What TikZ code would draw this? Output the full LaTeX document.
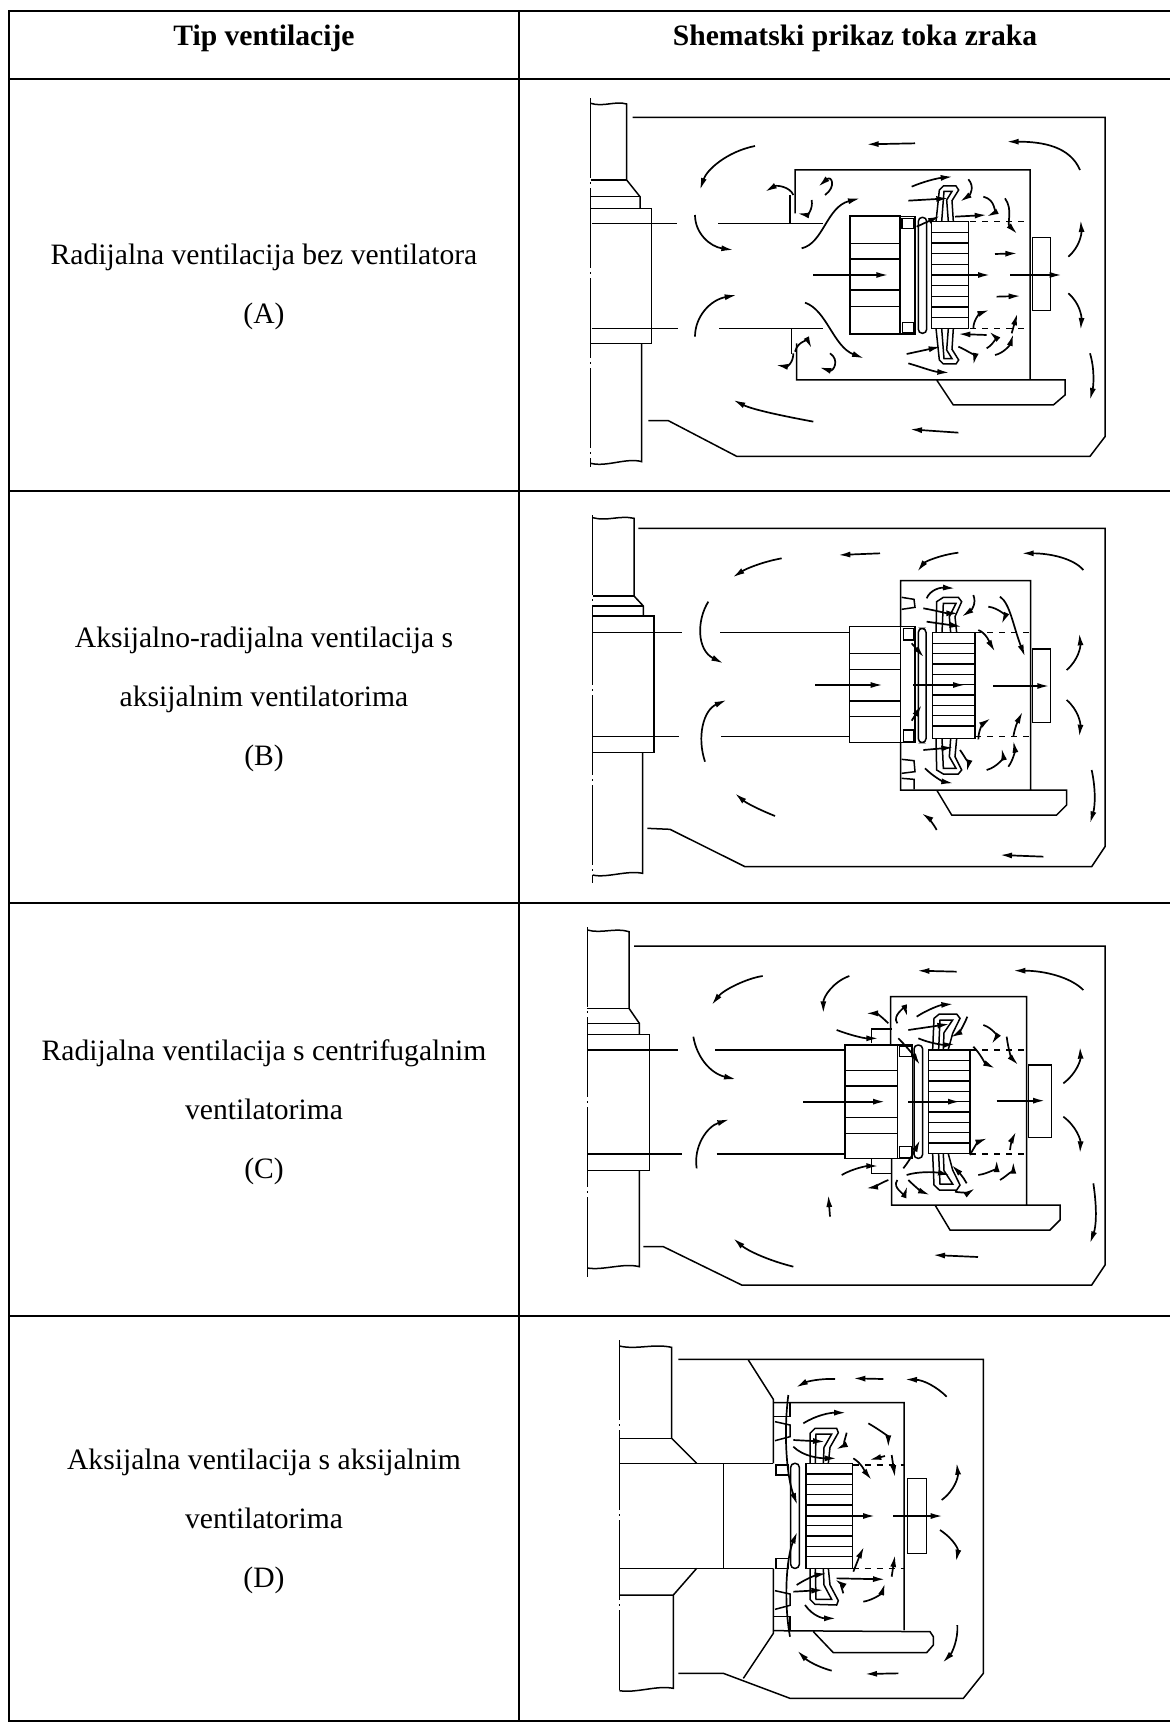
\documentclass[tikz,border=0pt]{standalone}
\usepackage{fontspec}
\setmainfont{Liberation Serif}
\usetikzlibrary{arrows.meta}

\begin{document}
\begin{tikzpicture}[x=0.5pt,y=-0.5pt,
  rule/.style={line width=0.85pt},
  hd/.style={anchor=base,font=\fontsize{14.8}{18}\selectfont\bfseries},
  txt/.style={anchor=base,font=\fontsize{14.8}{18}\selectfont},
  part/.style={line width=0.75pt},
  centreline/.style={line width=0.75pt,dash pattern=on 40pt off 2pt on 1pt off 2pt},
  flow/.style={line width=0.85pt,-{Latex[length=6pt,width=3pt]}}]
\useasboundingbox (0,0) rectangle (1169,1722);
\fill[white] (0,0) rectangle (1169,1722);

% table
\draw[rule] (8.7,11) rectangle (1172,1721);
\draw[rule] (519,11) -- (519,1721);
\foreach \y in {79,491,903,1316} \draw[rule] (8.7,\y) -- (1172,\y);

\node[hd] (head1) at (264,46) {Tip ventilacije};
\node[hd] (head2) at (855,46) {Shematski prikaz toka zraka};

\node[txt] (a1) at (264,265) {Radijalna ventilacija bez ventilatora};
\node[txt] (a2) at (264,324) {(A)};
\node[txt] (b1) at (264,647) {Aksijalno-radijalna ventilacija s};
\node[txt] (b2) at (264,706) {aksijalnim ventilatorima};
\node[txt] (b3) at (264,765) {(B)};
\node[txt] (c1) at (264,1060) {Radijalna ventilacija s centrifugalnim};
\node[txt] (c2) at (264,1119) {ventilatorima};
\node[txt] (c3) at (264,1178) {(C)};
\node[txt] (d1) at (264,1469) {Aksijalna ventilacija s aksijalnim};
\node[txt] (d2) at (264,1528) {ventilatorima};
\node[txt] (d3) at (264,1587) {(D)};

% ---------- A
\begin{scope}[shift={(560,80)},scale=1/3]
  \draw[centreline] (92,55) -- (92,1160);
  \draw[part] (92,70) .. controls (130,82) and (165,62) .. (200,72) -- (200,300) -- (240,350) -- (240,385);
  \draw[part] (92,300) -- (200,300) (92,350) -- (240,350) (92,385) -- (275,385) -- (275,790) -- (92,790);
  \draw[part] (245,790) -- (245,1145) .. controls (200,1132) and (140,1162) .. (92,1150);
  \draw[part] (95,430) -- (350,430) (475,430) -- (790,430) (95,745) -- (355,745) (478,745) -- (790,745);
  \draw[part,dashed] (1230,425) -- (1410,425) (1230,745) -- (1410,745);
  \draw[part] (218,112) -- (1635,112) -- (1635,1070) -- (1590,1129) -- (530,1129) -- (325,1022) -- (265,1022);
  \draw[part] (690,345) -- (690,430) (695,745) -- (695,822);
  \draw[part] (705,400) -- (705,270) -- (1410,270) -- (1410,900) (710,790) -- (710,900) -- (1515,900) -- (1515,945) -- (1480,975) -- (1180,975) -- (1130,900);
  \draw[part] (870,408) rectangle (1020,762);
  \foreach \y in {490,537,630,680} \draw[part] (870,\y) -- (1020,\y);
  \draw[part] (1022,410) rectangle (1065,762) (1026,415) rectangle (1062,445) (1028,728) rectangle (1062,758);
  \draw[part,rounded corners=2pt] (1075,412) rectangle (1100,760);
  \draw[part] (1115,425) rectangle (1225,745);
  \foreach \y in {457,489,...,713} \draw[part] (1115,\y) -- (1225,\y);
  \draw[part] (1128,425) -- (1138,330) -- (1150,318) -- (1188,318) -- (1196,330) -- (1176,362) -- (1180,425) (1165,425) -- (1160,360) -- (1176,334) -- (1152,334) -- (1145,425);
  \draw[part] (1128,745) -- (1138,840) -- (1150,852) -- (1188,852) -- (1196,840) -- (1176,808) -- (1180,745) (1165,745) -- (1160,810) -- (1176,836) -- (1152,836) -- (1145,745);
  \draw[part] (1418,473) rectangle (1472,692);
  % air flow
  \draw[flow] (1065,190) -- (920,193);
  \draw[flow] (1560,270) .. controls (1530,200) and (1450,185) .. (1340,185);
  \draw[flow] (585,198) .. controls (500,215) and (440,270) .. (420,330);
  \draw[flow] (405,405) .. controls (405,460) and (450,500) .. (520,510);
  \draw[flow] (405,770) .. controls (405,710) and (450,660) .. (530,645);
  \draw[flow] (760,1025) .. controls (680,1010) and (580,990) .. (520,960);
  \draw[flow] (1195,1058) -- (1050,1048);
  \draw[flow] (725,505) .. controls (790,490) and (800,380) .. (900,355);
  \draw[flow] (735,668) .. controls (800,690) and (820,800) .. (912,835);
  \draw[flow] (700,345) .. controls (690,320) and (650,315) .. (615,335);
  \draw[flow] (795,345) .. controls (830,320) and (815,285) .. (775,320);
  \draw[flow] (755,360) .. controls (760,390) and (740,405) .. (712,400);
  \draw[flow] (705,815) .. controls (715,780) and (745,785) .. (755,805);
  \draw[flow] (700,820) .. controls (700,850) and (680,860) .. (648,855);
  \draw[flow] (810,820) .. controls (840,840) and (820,875) .. (778,862);
  \draw[flow] (760,585) -- (985,585);
  \draw[flow] (1115,585) -- (1290,585);
  \draw[flow] (1305,522) -- (1372,520);
  \draw[flow] (1310,650) -- (1382,648);
  \draw[flow] (1350,585) -- (1505,585);
  \draw[flow] (1055,320) .. controls (1090,305) and (1130,295) .. (1178,290);
  \draw[flow] (1045,362) -- (1165,355);
  \draw[flow] (1070,440) -- (1140,408);
  \draw[flow] (1225,298) .. controls (1245,320) and (1230,345) .. (1200,365);
  \draw[flow] (1270,350) .. controls (1310,360) and (1300,400) .. (1280,410);
  \draw[flow] (1185,410) -- (1280,405);
  \draw[flow] (1335,355) .. controls (1360,390) and (1340,430) .. (1372,462);
  \draw[flow] (1040,822) -- (1142,800);
  \draw[flow] (1045,850) .. controls (1080,860) and (1120,875) .. (1168,878);
  \draw[flow] (1240,745) .. controls (1240,720) and (1260,700) .. (1288,690);
  \draw[flow] (1280,765) -- (1195,762);
  \draw[flow] (1195,800) .. controls (1220,810) and (1245,830) .. (1240,855);
  \draw[flow] (1280,805) .. controls (1305,790) and (1305,770) .. (1288,755);
  \draw[flow] (1305,825) .. controls (1330,820) and (1350,795) .. (1360,762);
  \draw[flow] (1355,760) -- (1372,700);
  \draw[flow] (1525,530) .. controls (1560,500) and (1565,460) .. (1562,420);
  \draw[flow] (1525,640) .. controls (1560,670) and (1565,710) .. (1562,750);
  \draw[flow] (1590,820) .. controls (1605,870) and (1600,920) .. (1590,960);
\end{scope}

% ---------- B
\begin{scope}[shift={(560,470)},scale=1/3]
  \draw[centreline] (98,135) -- (98,1240);
  \draw[part] (98,143) .. controls (140,155) and (180,135) .. (222,145) -- (222,378) -- (250,408) -- (250,438);
  \draw[part] (98,378) -- (222,378) (98,408) -- (250,408) (98,438) -- (282,438) -- (282,848) -- (98,848);
  \draw[part] (248,848) -- (248,1210) .. controls (200,1200) and (140,1225) .. (98,1215);
  \draw[part] (100,487) -- (365,487) (480,487) -- (868,487) (100,800) -- (358,800) (483,800) -- (868,800);
  \draw[part,dashed] (1245,487) -- (1412,487) (1245,800) -- (1412,800);
  \draw[part] (235,175) -- (1635,175) -- (1635,1130) -- (1595,1190) -- (555,1190) -- (330,1078) -- (262,1075);
  \draw[part] (1022,470) -- (1022,332) -- (1412,332) -- (1412,960) (1022,818) -- (1022,960) -- (1520,960) -- (1520,1005) -- (1490,1035) -- (1175,1035) -- (1130,960);
  \draw[part] (1025,382) -- (1062,388) -- (1065,412) -- (1025,418) (1025,868) -- (1062,872) -- (1065,905) -- (1025,910) (1025,925) -- (1062,928) -- (1062,958);
  \draw[part] (868,470) rectangle (1022,818);
  \foreach \y in {550,598,693,740} \draw[part] (868,\y) -- (1022,\y);
  \draw[part] (1022,470) rectangle (1065,818) (1030,475) rectangle (1062,510) (1030,780) rectangle (1062,815);
  \draw[part,rounded corners=2pt] (1075,475) rectangle (1098,818);
  \draw[part] (1117,488) rectangle (1245,805);
  \foreach \y in {520,551,...,775} \draw[part] (1117,\y) -- (1245,\y);
  \draw[part] (1128,488) -- (1130,395) -- (1150,382) -- (1195,382) -- (1205,395) -- (1185,440) -- (1190,488) (1172,488) -- (1168,440) -- (1188,400) -- (1150,400) -- (1146,488);
  \draw[part] (1128,805) -- (1130,900) -- (1150,912) -- (1195,912) -- (1205,900) -- (1185,860) -- (1190,805) (1172,805) -- (1168,860) -- (1188,895) -- (1150,895) -- (1146,805);
  \draw[part] (1418,537) rectangle (1472,757);
  % air flow
  \draw[flow] (960,250) -- (835,255);
  \draw[flow] (1570,300) .. controls (1540,265) and (1470,250) .. (1385,250);
  \draw[flow] (665,265) .. controls (610,275) and (560,295) .. (518,322);
  \draw[flow] (1195,248) .. controls (1140,255) and (1095,275) .. (1072,305);
  \draw[flow] (445,395) .. controls (410,450) and (410,540) .. (490,580);
  \draw[flow] (435,875) .. controls (410,800) and (430,720) .. (500,690);
  \draw[flow] (645,1038) .. controls (600,1020) and (560,1000) .. (525,970);
  \draw[flow] (1130,1080) .. controls (1120,1060) and (1100,1040) .. (1085,1030);
  \draw[flow] (1450,1160) -- (1320,1155);
  \draw[flow] (765,645) -- (968,645);
  \draw[flow] (1060,645) -- (1215,645);
  \draw[flow] (1300,648) -- (1468,648);
  \draw[flow] (1100,385) .. controls (1110,360) and (1140,352) .. (1185,355);
  \draw[flow] (1090,415) .. controls (1120,420) and (1160,430) .. (1195,430);
  \draw[flow] (1100,455) -- (1205,470);
  \draw[flow] (1240,375) .. controls (1250,400) and (1235,420) .. (1205,440);
  \draw[flow] (1285,410) .. controls (1320,415) and (1335,440) .. (1325,462);
  \draw[flow] (1320,380) .. controls (1350,400) and (1360,470) .. (1395,560);
  \draw[flow] (1255,480) .. controls (1280,490) and (1290,520) .. (1305,545);
  \draw[flow] (1055,520) -- (1092,562);
  \draw[flow] (1055,752) -- (1085,705);
  \draw[flow] (1090,840) -- (1180,832);
  \draw[flow] (1095,895) .. controls (1120,920) and (1150,935) .. (1180,940);
  \draw[flow] (1200,840) .. controls (1215,860) and (1225,885) .. (1220,905);
  \draw[flow] (1255,808) .. controls (1255,780) and (1270,760) .. (1292,745);
  \draw[flow] (1280,900) .. controls (1315,890) and (1330,860) .. (1325,835);
  \draw[flow] (1345,890) .. controls (1360,870) and (1365,840) .. (1360,812);
  \draw[flow] (1360,800) .. controls (1365,770) and (1375,750) .. (1388,725);
  \draw[flow] (1520,600) .. controls (1555,570) and (1562,530) .. (1558,490);
  \draw[flow] (1520,690) .. controls (1555,720) and (1562,760) .. (1558,800);
  \draw[flow] (1595,900) .. controls (1608,960) and (1605,1010) .. (1590,1060);
\end{scope}

% ---------- C
\begin{scope}[shift={(560,850)},scale=1/3]
  \draw[centreline] (82,232) -- (82,1290);
  \draw[part] (82,240) .. controls (125,252) and (165,232) .. (207,245) -- (207,475) -- (238,520) -- (238,553);
  \draw[part] (82,475) -- (207,475) (82,520) -- (238,520) (82,553) -- (268,553) -- (268,962) -- (82,962);
  \draw[part] (238,962) -- (238,1250) .. controls (190,1238) and (130,1262) .. (82,1254);
  \draw[part] (85,600) -- (355,600) (465,600) -- (855,600) (85,912) -- (365,912) (470,912) -- (855,912);
  \draw[part,dashed] (1230,600) -- (1400,600) (1230,912) -- (1400,912);
  \draw[part] (222,288) -- (1635,288) -- (1635,1245) -- (1595,1305) -- (545,1305) -- (310,1190) -- (250,1190);
  \draw[part] (992,585) -- (992,440) -- (1400,440) -- (1400,1065) (995,925) -- (995,1065) -- (1500,1065) -- (1500,1110) -- (1470,1140) -- (1170,1140) -- (1125,1065);
  \draw[part] (935,580) -- (935,537) -- (995,537) (935,928) -- (935,970) -- (995,970);
  \draw[part] (855,585) rectangle (1012,925);
  \foreach \y in {662,708,803,850} \draw[part] (855,\y) -- (1012,\y);
  \draw[part] (1012,585) rectangle (1058,925) (1018,588) rectangle (1055,620) (1018,890) rectangle (1055,922);
  \draw[part,rounded corners=2pt] (1062,585) rectangle (1088,925);
  \draw[part] (1105,600) rectangle (1230,910);
  \foreach \y in {631,662,...,880} \draw[part] (1105,\y) -- (1230,\y);
  \draw[part] (1118,598) -- (1122,505) -- (1138,492) -- (1190,492) -- (1200,505) -- (1178,550) -- (1165,598) (1150,598) -- (1152,548) -- (1178,510) -- (1140,510) -- (1136,598);
  \draw[part] (1118,912) -- (1122,1005) -- (1138,1020) -- (1190,1020) -- (1200,1005) -- (1178,960) -- (1165,912) (1150,912) -- (1152,962) -- (1178,1002) -- (1140,1002) -- (1136,912);
  \draw[part] (1405,645) rectangle (1475,862);
  % air flow
  \draw[flow] (1190,365) -- (1072,362);
  \draw[flow] (1570,420) .. controls (1530,380) and (1450,362) .. (1360,362);
  \draw[flow] (608,378) .. controls (560,385) and (490,420) .. (455,465);
  \draw[flow] (868,378) .. controls (820,395) and (790,440) .. (790,490);
  \draw[flow] (400,560) .. controls (410,620) and (450,670) .. (528,688);
  \draw[flow] (410,955) .. controls (400,890) and (440,830) .. (508,808);
  \draw[flow] (810,1100) -- (805,1035);
  \draw[flow] (700,1250) .. controls (620,1230) and (560,1200) .. (520,1165);
  \draw[flow] (1254,1221) -- (1119,1215);
  \draw[flow] (730,755) -- (975,755);
  \draw[flow] (1045,755) -- (1200,755);
  \draw[flow] (1310,752) -- (1455,752);
  \draw[flow] (830,540) .. controls (870,555) and (910,565) .. (955,565);
  \draw[flow] (985,520) .. controls (965,500) and (950,490) .. (918,490);
  \draw[flow] (1012,520) .. controls (995,495) and (1035,475) .. (1042,500);
  \draw[flow] (1070,500) .. controls (1100,480) and (1140,465) .. (1180,462);
  \draw[flow] (1045,540) -- (1168,522);
  \draw[flow] (1075,565) .. controls (1110,580) and (1150,585) .. (1185,582);
  \draw[flow] (1015,565) .. controls (1040,590) and (1060,615) .. (1080,645);
  \draw[flow] (1222,500) .. controls (1210,530) and (1195,550) .. (1172,562);
  \draw[flow] (1270,525) .. controls (1300,535) and (1310,560) .. (1295,582);
  \draw[flow] (1340,560) .. controls (1345,600) and (1355,625) .. (1375,645);
  \draw[flow] (1240,590) .. controls (1260,610) and (1275,640) .. (1305,655);
  \draw[flow] (845,975) .. controls (880,955) and (920,948) .. (955,948);
  \draw[flow] (985,990) .. controls (960,1000) and (940,1012) .. (918,1015);
  \draw[flow] (1012,990) .. controls (995,1015) and (1035,1030) .. (1042,1008);
  \draw[flow] (1040,975) .. controls (1070,965) and (1120,965) .. (1170,975);
  \draw[flow] (1045,990) .. controls (1065,1010) and (1085,1025) .. (1110,1035);
  \draw[flow] (1030,955) .. controls (1050,930) and (1065,900) .. (1080,870);
  \draw[flow] (1185,1025) .. controls (1210,1030) and (1230,1025) .. (1245,1015);
  \draw[flow] (1230,915) .. controls (1240,895) and (1255,875) .. (1282,865);
  \draw[flow] (1220,1000) .. controls (1210,980) and (1190,960) .. (1175,945);
  \draw[flow] (1255,975) .. controls (1290,970) and (1310,950) .. (1310,930);
  \draw[flow] (1320,990) .. controls (1345,975) and (1360,955) .. (1360,935);
  \draw[flow] (1350,900) .. controls (1352,880) and (1358,865) .. (1368,845);
  \draw[flow] (1510,700) .. controls (1550,670) and (1562,630) .. (1560,590);
  \draw[flow] (1510,800) .. controls (1550,830) and (1562,870) .. (1560,910);
  \draw[flow] (1600,1000) .. controls (1612,1080) and (1608,1130) .. (1590,1180);
\end{scope}

% ---------- D
\begin{scope}[shift={(560,1250)},scale=1/3]
  \draw[centreline] (178,270) -- (178,1330);
  \draw[part] (178,288) .. controls (230,300) and (280,280) .. (335,292) -- (335,565) -- (410,640);
  \draw[part] (178,565) -- (335,565) (178,640) -- (640,640) (490,640) -- (490,955) (178,955) -- (640,955);
  \draw[part] (410,955) -- (340,1035) -- (178,1035) (340,1035) -- (340,1315) .. controls (290,1305) and (230,1330) .. (178,1322);
  \draw[part] (355,328) -- (1270,328) -- (1270,1270) -- (1210,1345) -- (690,1345) -- (490,1270) -- (355,1270);
  \draw[part] (565,330) -- (640,448) -- (640,640) (640,955) -- (640,1150) -- (550,1285);
  \draw[part] (640,458) -- (1032,458) -- (1032,1140) (640,1142) -- (1110,1145) -- (1120,1160) -- (1120,1185) -- (1100,1208) -- (820,1208) -- (760,1145);
  \draw[part] (640,458) rectangle (690,500) (640,1100) rectangle (690,1142);
  \draw[part] (645,515) -- (690,525) -- (690,560) -- (645,572) (645,1022) -- (690,1032) -- (690,1066) -- (645,1078);
  \draw[part,dashed] (878,645) -- (1032,645) (878,955) -- (1032,955);
  \draw[part] (648,645) rectangle (685,675) (648,925) rectangle (685,955);
  \draw[part,rounded corners=2pt] (692,640) rectangle (718,955);
  \draw[part] (738,640) rectangle (878,955);
  \foreach \y in {672,703,...,925} \draw[part] (738,\y) -- (878,\y);
  \draw[part] (750,640) -- (750,550) -- (765,535) -- (830,535) -- (835,548) -- (810,592) -- (805,640) (790,640) -- (792,592) -- (815,552) -- (768,552) -- (766,640);
  \draw[part] (750,955) -- (750,1048) -- (765,1063) -- (830,1065) -- (835,1052) -- (810,1005) -- (805,955) (790,955) -- (792,1005) -- (815,1048) -- (768,1048) -- (766,955);
  \draw[part] (1042,686) rectangle (1100,910);
  % air flow
  \draw[flow] (825,387) .. controls (780,385) and (740,395) .. (708,412);
  \draw[flow] (970,387) -- (880,385);
  \draw[flow] (1160,440) .. controls (1130,410) and (1090,390) .. (1035,388);
  \draw[flow] (1145,750) .. controls (1185,720) and (1195,680) .. (1190,638);
  \draw[flow] (1140,840) .. controls (1185,870) and (1195,900) .. (1188,935);
  \draw[flow] (1192,1125) .. controls (1195,1170) and (1175,1210) .. (1148,1238);
  \draw[flow] (1015,1270) -- (915,1272);
  \draw[flow] (815,1262) .. controls (770,1250) and (740,1230) .. (712,1202);
  \draw[flow] (740,798) -- (945,798);
  \draw[flow] (1000,798) -- (1148,798);
  \draw[flow] (685,435) .. controls (670,550) and (680,680) .. (712,765);
  \draw[flow] (690,1160) .. controls (670,1050) and (680,920) .. (712,845);
  \draw[flow] (730,520) .. controls (770,495) and (810,488) .. (858,488);
  \draw[flow] (700,570) -- (795,575);
  \draw[flow] (700,590) .. controls (730,620) and (780,625) .. (830,625);
  \draw[flow] (925,520) .. controls (960,540) and (985,560) .. (985,592);
  \draw[flow] (860,548) .. controls (855,570) and (845,590) .. (828,598);
  \draw[flow] (975,618) -- (928,630);
  \draw[flow] (995,615) -- (1005,682);
  \draw[flow] (880,625) .. controls (905,640) and (915,665) .. (935,690);
  \draw[flow] (735,1065) .. controls (760,1100) and (790,1105) .. (828,1105);
  \draw[flow] (700,1025) -- (790,1020);
  \draw[flow] (710,1005) .. controls (740,985) and (770,975) .. (800,970);
  \draw[flow] (910,1055) .. controls (940,1050) and (965,1030) .. (975,1000);
  \draw[flow] (850,1030) .. controls (845,1010) and (835,995) .. (825,988);
  \draw[flow] (830,985) -- (975,988);
  \draw[flow] (995,980) -- (1005,915);
  \draw[flow] (880,965) .. controls (890,940) and (900,915) .. (912,890);
\end{scope}
\end{tikzpicture}
\end{document}
